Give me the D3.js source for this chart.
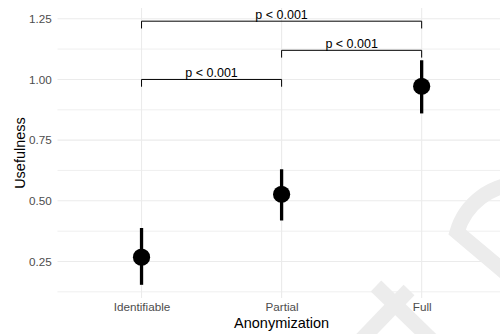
<!DOCTYPE html>
<html>
<head>
<meta charset="utf-8">
<script src="https://cdn.jsdelivr.net/npm/d3@7/dist/d3.min.js"></script>
<style>
  html, body { margin: 0; padding: 0; background: #fff; }
  svg { display: block; font-family: "Liberation Sans", Arial, sans-serif; }
</style>
</head>
<body>
<svg id="chart" width="500" height="334"></svg>
<script>
// Anonymization level vs. mean usefulness with 95% intervals
const categories = ["Identifiable", "Partial", "Full"];
const means      = [0.268, 0.527, 0.972];
const lower      = [0.154, 0.419, 0.860];
const upper      = [0.388, 0.630, 1.079];

// Pairwise comparisons drawn as brackets
const bracketFrom  = ["Identifiable", "Partial", "Identifiable"];
const bracketTo    = ["Partial", "Full", "Full"];
const bracketY     = [1.00, 1.12, 1.24];
const bracketLabel = ["p < 0.001", "p < 0.001", "p < 0.001"];
const tipLength = 0.03;

const yTicks = [0.25, 0.50, 0.75, 1.00, 1.25];
const yMinor = [0.125, 0.375, 0.625, 0.875, 1.125];

const W = 500, H = 334;
const panel = { left: 57.5, right: 505.7, top: 8, bottom: 298 };

const svg = d3.select("#chart");

const x = d3.scalePoint()
  .domain(categories)
  .range([panel.left, panel.right])
  .padding(0.6);

const lo = d3.min(lower), hi = d3.max(bracketY);
const pad = (hi - lo) * 0.05;
const y = d3.scaleLinear()
  .domain([lo - pad, hi + pad])
  .range([panel.bottom, panel.top]);

// grid
const grid = svg.append("g").attr("class", "grid");
grid.selectAll("line.minor").data(yMinor).join("line")
  .attr("class", "minor")
  .attr("x1", panel.left).attr("x2", panel.right)
  .attr("y1", d => y(d)).attr("y2", d => y(d))
  .attr("stroke", "#ededed").attr("stroke-width", 0.9);
grid.selectAll("line.major").data(yTicks).join("line")
  .attr("class", "major")
  .attr("x1", panel.left).attr("x2", panel.right)
  .attr("y1", d => y(d)).attr("y2", d => y(d))
  .attr("stroke", "#ebebeb").attr("stroke-width", 1.1);
grid.selectAll("line.vert").data(categories).join("line")
  .attr("class", "vert")
  .attr("x1", d => x(d)).attr("x2", d => x(d))
  .attr("y1", panel.top).attr("y2", panel.bottom)
  .attr("stroke", "#ebebeb").attr("stroke-width", 1.1);

// faint background emblem in the lower right corner
const emblem = svg.append("g")
  .attr("fill", "none")
  .attr("stroke", "#ececec")
  .attr("stroke-width", 15);
emblem.append("path")
  .attr("stroke-linejoin", "miter")
  .attr("d", "M545,306 L457,232 A67,67 0 0 1 585,230");
emblem.append("path")
  .attr("d", "M376,286 L445,353");
emblem.append("path")
  .attr("d", "M409,290 L360,341");

// axes
const yAxis = svg.append("g")
  .attr("transform", `translate(${panel.left},0)`)
  .call(d3.axisLeft(y).tickValues(yTicks).tickSize(0).tickPadding(5.8)
    .tickFormat(d3.format(".2f")));
yAxis.select(".domain").remove();
yAxis.selectAll("text")
  .attr("fill", "#4d4d4d")
  .style("font-size", "11.7px")
  .style("font-family", "Liberation Sans, Arial, sans-serif");

const xAxis = svg.append("g")
  .attr("transform", `translate(0,${panel.bottom})`)
  .call(d3.axisBottom(x).tickSize(0).tickPadding(5));
xAxis.select(".domain").remove();
xAxis.selectAll("text")
  .attr("fill", "#4d4d4d")
  .style("font-size", "11.7px")
  .style("font-family", "Liberation Sans, Arial, sans-serif");

// axis titles
svg.append("text")
  .attr("x", (panel.left + panel.right) / 2)
  .attr("y", 327.5)
  .attr("text-anchor", "middle")
  .style("font-size", "14.5px")
  .attr("fill", "#000")
  .text("Anonymization");
svg.append("text")
  .attr("transform", `translate(24.5,${(panel.top + panel.bottom) / 2}) rotate(-90)`)
  .attr("text-anchor", "middle")
  .style("font-size", "14.5px")
  .attr("fill", "#000")
  .text("Usefulness");

// error bars and points
const pts = categories.map((c, i) => ({ c, m: means[i], l: lower[i], u: upper[i] }));
svg.append("g").selectAll("line").data(pts).join("line")
  .attr("x1", d => x(d.c)).attr("x2", d => x(d.c))
  .attr("y1", d => y(d.l)).attr("y2", d => y(d.u))
  .attr("stroke", "#000").attr("stroke-width", 3.3);
svg.append("g").selectAll("circle").data(pts).join("circle")
  .attr("cx", d => x(d.c)).attr("cy", d => y(d.m))
  .attr("r", 8.6).attr("fill", "#000");

// significance brackets
const br = bracketY.map((v, i) => ({ a: bracketFrom[i], b: bracketTo[i], v, t: bracketLabel[i] }));
const bg = svg.append("g");
bg.selectAll("path").data(br).join("path")
  .attr("fill", "none").attr("stroke", "#000").attr("stroke-width", 1)
  .attr("d", d => `M${x(d.a)},${y(d.v - tipLength)} L${x(d.a)},${y(d.v)} L${x(d.b)},${y(d.v)} L${x(d.b)},${y(d.v - tipLength)}`);
bg.selectAll("text").data(br).join("text")
  .attr("x", d => (x(d.a) + x(d.b)) / 2)
  .attr("y", d => y(d.v) - 2.3)
  .attr("text-anchor", "middle")
  .style("font-size", "12.5px")
  .attr("fill", "#000")
  .text(d => d.t);
</script>
</body>
</html>
